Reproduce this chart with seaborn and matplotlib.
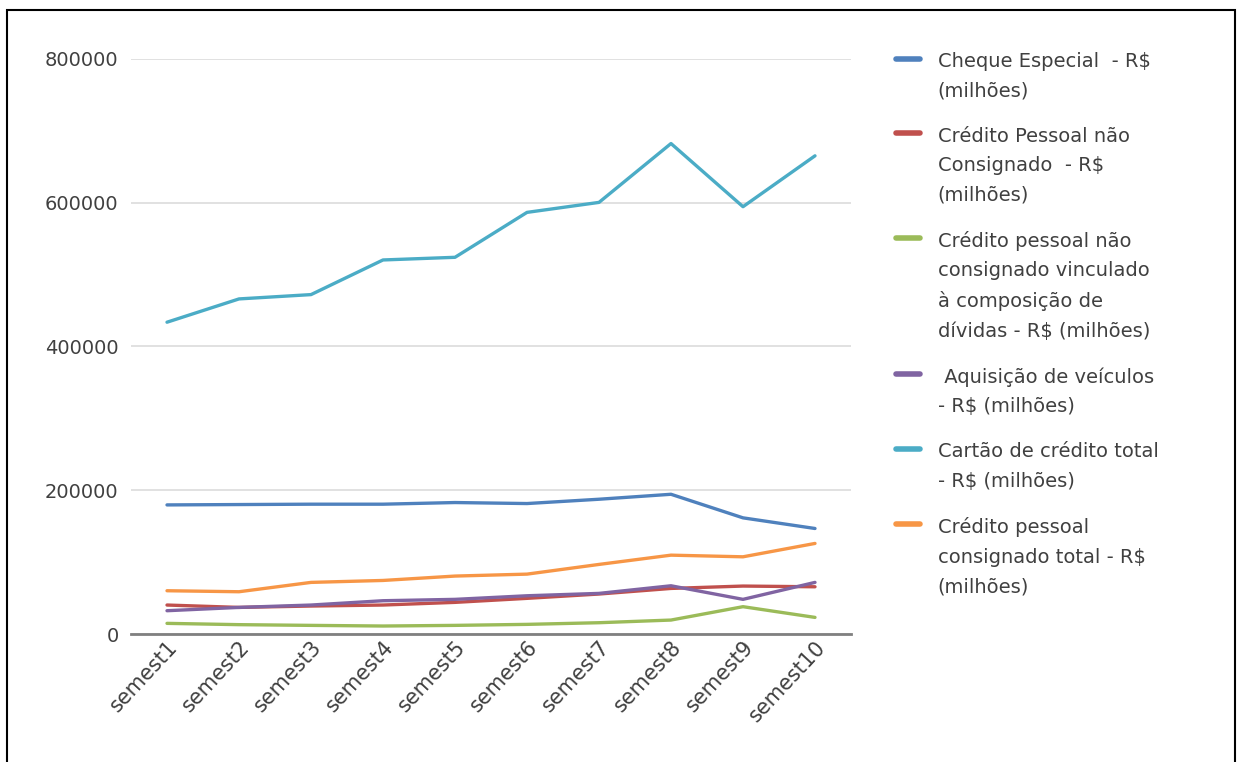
import matplotlib
matplotlib.use("Agg")
import matplotlib.pyplot as plt
import seaborn as sns
import pandas as pd
from matplotlib.patches import Rectangle

categories = ["semest1", "semest2", "semest3", "semest4", "semest5",
              "semest6", "semest7", "semest8", "semest9", "semest10"]

series_names = [
    "Cheque Especial  - R$\n(milhões)",
    "Crédito Pessoal não\nConsignado  - R$\n(milhões)",
    "Crédito pessoal não\nconsignado vinculado\nà composição de\ndívidas - R$ (milhões)",
    " Aquisição de veículos\n- R$ (milhões)",
    "Cartão de crédito total\n- R$ (milhões)",
    "Crédito pessoal\nconsignado total - R$\n(milhões)",
]

cheque_especial = [179600, 180100, 180600, 180600, 182900, 181500, 187500, 194400, 161600, 146800]
credito_nao_consignado = [40300, 37000, 38900, 40300, 44000, 49600, 55600, 63400, 66700, 65700]
credito_composicao_dividas = [14800, 13000, 12000, 11100, 12000, 13400, 15700, 19400, 38000, 23100]
aquisicao_veiculos = [32400, 37000, 40300, 46300, 48200, 53200, 56500, 67100, 48200, 71800]
cartao_credito = [433800, 466200, 472200, 520400, 524100, 586600, 600500, 682400, 594500, 665300]
credito_consignado = [60200, 58800, 71800, 74500, 80600, 83300, 96800, 109700, 107400, 126000]

y_ticks = [0, 200000, 400000, 600000, 800000]

colors = ["#4F81BD", "#C0504D", "#9BBB59", "#8064A2", "#4BACC6", "#F79646"]

all_values = [cheque_especial, credito_nao_consignado, credito_composicao_dividas,
              aquisicao_veiculos, cartao_credito, credito_consignado]

rows = []
for name, vals in zip(series_names, all_values):
    for c, v in zip(categories, vals):
        rows.append({"semestre": c, "valor": v, "serie": name})
df = pd.DataFrame(rows)

sns.set_theme(style="white")
plt.rcParams["font.family"] = ["DejaVu Sans"]

fig = plt.figure(figsize=(12.38, 7.62), dpi=100)
ax = fig.add_axes([131 / 1238, 128 / 762, 720 / 1238, 575 / 762])

sns.lineplot(data=df, x="semestre", y="valor", hue="serie", palette=colors,
             hue_order=series_names, sort=False, linewidth=2.4, ax=ax, legend=True)

ax.set_xlim(-0.5, len(categories) - 0.5)
ax.set_ylim(0, 800000)
ax.set_yticks(y_ticks)
ax.set_yticklabels([str(t) for t in y_ticks], fontsize=14, color="#404040")
ax.set_xlabel("")
ax.set_ylabel("")
ax.grid(axis="y", color="#D9D9D9", linewidth=1.1)
ax.grid(axis="x", visible=False)
ax.set_axisbelow(True)
for s in ["left", "right", "top"]:
    ax.spines[s].set_visible(False)
ax.spines["bottom"].set_color("#808080")
ax.spines["bottom"].set_linewidth(2)
ax.tick_params(axis="y", length=0, pad=9)
ax.tick_params(axis="x", length=0, pad=2)
plt.setp(ax.get_xticklabels(), rotation=47, ha="right", rotation_mode="anchor",
         fontsize=15, color="#404040")

handles, labels = ax.get_legend_handles_labels()
ax.get_legend().remove()
leg = fig.legend(handles, labels, loc="upper left", bbox_to_anchor=(888 / 1238, 1 - 44 / 762),
                 frameon=False, fontsize=14, handlelength=1.25, handletextpad=0.9,
                 labelspacing=1.35, borderaxespad=0)
for t in leg.get_texts():
    t.set_linespacing(1.7)
    t.set_color("#404040")
for h in leg.legend_handles:
    h.set_linewidth(4)
# align each legend handle with the first line of its label
for col in leg._legend_handle_box.get_children():
    for hp in col.get_children():
        hp.align = "top"

fig.patches.append(Rectangle((7 / 1238, -0.05), (1235 - 7) / 1238, 1.05 - 10 / 762,
                             transform=fig.transFigure, fill=False, edgecolor="black",
                             linewidth=1.5))

fig.savefig("out.png", dpi=100)
